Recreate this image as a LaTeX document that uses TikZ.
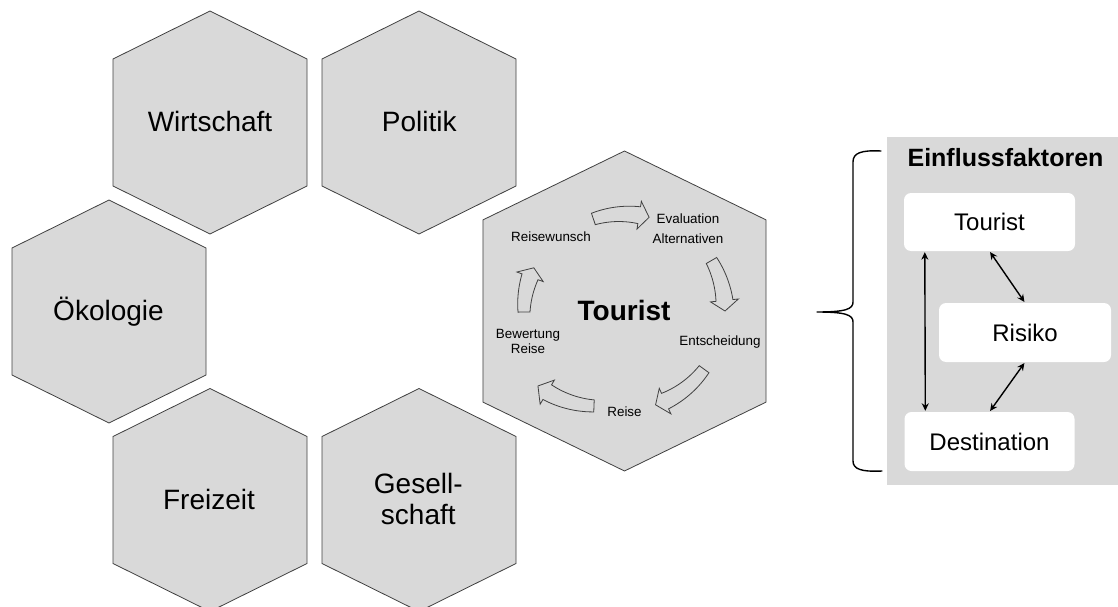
\documentclass[tikz,border=0pt]{standalone}
\usepackage{fontspec}
\setmainfont{Liberation Sans}
\usetikzlibrary{arrows.meta}
\definecolor{cellgray}{HTML}{D9D9D9}
\definecolor{edgegray}{HTML}{404040}

% hexagonal cell: centre x, centre y, x scale, y scale
\newcommand{\hexcellat}[4]{%
  \filldraw[hexcell, shift={(#1,#2)}, xscale=#3, yscale=#4]
    (0,111.5) -- (97,63.5) -- (97,-63.5) -- (0,-111.5)
    -- (-97,-63.5) -- (-97,63.5) -- cycle;}

% curved block arrow: centre, radius, tail angle, head-base angle, tip angle
\newcommand{\cyclearrow}[5]{%
  \draw[cyclearrow, shift={#1}]
    plot[domain=0:1, samples=25] ({(#3)+((#4)-(#3))*\x}:{#2+6+2.5*\x})
    -- ({#4}:{#2+14}) -- ({#5}:{#2}) -- ({#4}:{#2-14})
    -- plot[domain=0:1, samples=25] ({(#4)+((#3)-(#4))*\x}:{#2-8.5+2.5*\x})
    -- cycle;}

\begin{document}
\begin{tikzpicture}[x=1pt, y=1pt,
  hexcell/.style={fill=cellgray, draw=edgegray, line width=0.8pt, line join=miter},
  hexlabel/.style={font=\fontsize{28}{31}\selectfont, inner sep=0pt,
    text height=20pt, text depth=0pt},
  hexlines/.style={font=\fontsize{28}{31}\selectfont, inner sep=0pt, align=center},
  steplabel/.style={font=\fontsize{13.4}{15.3}\selectfont, inner sep=0pt,
    text height=9.6pt, text depth=0pt},
  steplines/.style={inner sep=0pt, align=center},
  cyclearrow/.style={draw=edgegray, line width=0.8pt, line join=miter},
  panel/.style={fill=cellgray, draw=none},
  factorbox/.style={fill=white, rounded corners=7pt, minimum width=171pt,
    minimum height=58pt, inner sep=0pt, font=\fontsize{24}{28}\selectfont,
    text height=17pt, text depth=0pt},
  link/.style={{Stealth[length=7.5pt,width=7pt]}-{Stealth[length=7.5pt,width=7pt]},
    line width=1.4pt, shorten <=1pt, shorten >=1pt},
  brace/.style={draw=black, line width=1.4pt, line join=round, line cap=round},
]
\useasboundingbox (0,0) rectangle (1118,-607);

% surrounding fields
\hexcellat{210}{-122.5}{1}{1}
\hexcellat{419}{-122.5}{1}{1}
\hexcellat{109}{-311.5}{1}{1}
\hexcellat{210}{-500}{1}{1}
\hexcellat{419}{-500}{1}{1}
% central field
\hexcellat{624.5}{-311}{1.459}{1.435}

\node[hexlabel] (wirtschaft) at (210,-121.7) {Wirtschaft};
\node[hexlabel] (politik) at (419.3,-121.7) {Politik};
\node[hexlabel] (oekologie) at (108.5,-310) {Ökologie};
\node[hexlabel] (freizeit) at (209,-499.3) {Freizeit};
\node[hexlines] (gesellschaft) at (418.3,-499.3) {Gesell-\\schaft};

% decision cycle of the tourist
\node[hexlabel, font=\fontsize{28}{31}\selectfont\bfseries] (tourist) at (624,-310) {Tourist};
\node[steplabel] (wunsch) at (551,-236.2) {Reisewunsch};
\node[steplines, font=\fontsize{13.4}{19.3}\selectfont] (evaluation) at (688,-228.8) {Evaluation\\Alternativen};
\node[steplabel] (entscheidung) at (720,-340.2) {Entscheidung};
\node[steplabel] (reise) at (624.5,-411.2) {Reise};
\node[steplines, font=\fontsize{13.4}{15}\selectfont] (bewertung) at (528,-341) {Bewertung\\Reise};

\cyclearrow{(624,-311)}{97}{108.4}{81}{75}
\cyclearrow{(624,-311)}{101}{30}{6}{0}
\cyclearrow{(624,-311)}{99}{-36}{-65.5}{-71.4}
\cyclearrow{(598,-306)}{100}{-92.3}{-120.5}{-126.9}
\cyclearrow{(624,-311)}{100}{180.6}{160}{154.4}

% brace towards the factor panel
\draw[brace] (881,-151) .. controls (861,-150) and (853,-153) .. (853,-162)
  -- (853,-302) .. controls (853,-309) and (846,-312) .. (817,-312)
  .. controls (846,-312) and (853,-315) .. (853,-322)
  -- (853,-461) .. controls (853,-469) and (861,-472) .. (882,-471);

% factor panel
\fill[panel] (887,-137) rectangle (1118,-485);
\node[font=\fontsize{25}{29}\selectfont\bfseries, inner sep=0pt,
  text height=17.9pt, text depth=0pt] (einfluss) at (1005.5,-157.7) {Einflussfaktoren};
\node[factorbox] (tb) at (989.5,-222) {Tourist};
\node[factorbox, minimum width=172pt, minimum height=59pt] (rb) at (1025,-332.5) {Risiko};
\node[factorbox, minimum width=170pt, minimum height=59pt] (db) at (989.5,-441.5) {Destination};

\draw[link] ([xshift=21pt]tb.south west) -- ([xshift=21pt]db.north west);
\draw[link] (tb.south) -- (rb.north);
\draw[link] (rb.south) -- (db.north);
\end{tikzpicture}
\end{document}
